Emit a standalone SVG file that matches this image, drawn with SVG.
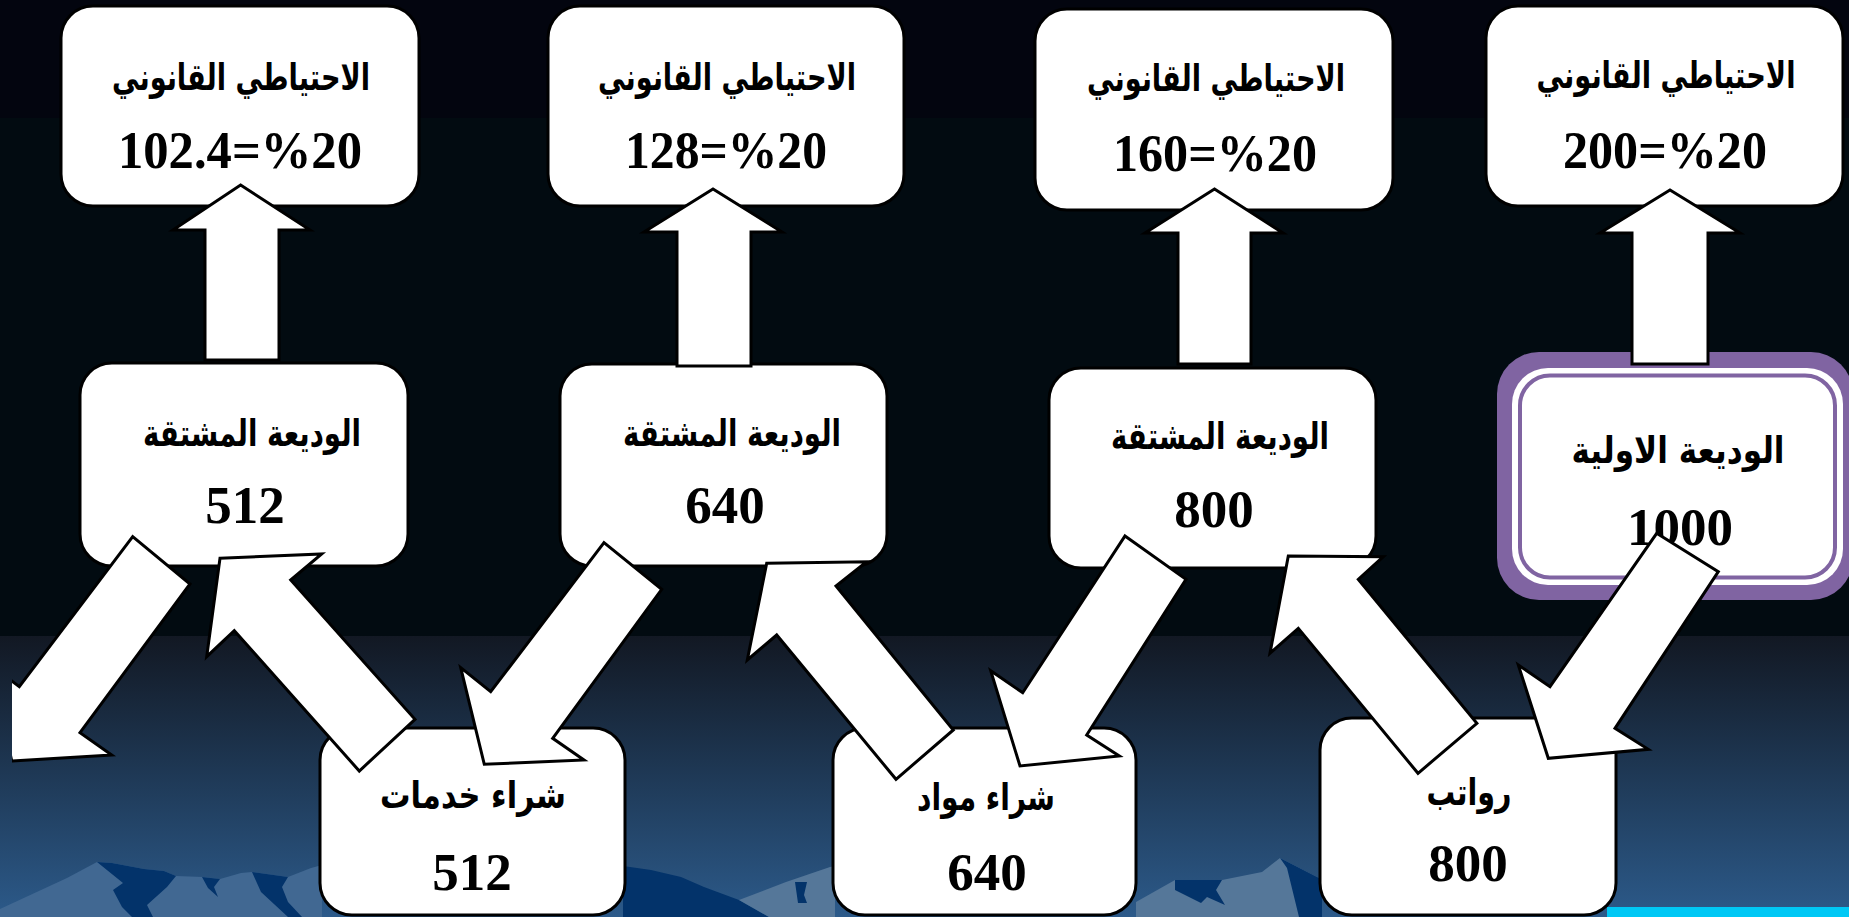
<svg xmlns="http://www.w3.org/2000/svg" width="1849" height="917" viewBox="0 0 1849 917">
<defs>
<linearGradient id="bg" x1="0" y1="636" x2="0" y2="917" gradientUnits="userSpaceOnUse">
<stop offset="0" stop-color="#121823"/>
<stop offset="0.44" stop-color="#1d3550"/>
<stop offset="1" stop-color="#2c5a8a"/>
</linearGradient>
<clipPath id="clipL"><rect x="12" y="0" width="1837" height="917"/></clipPath>
<style>
.box{fill:#fff;stroke:#000;stroke-width:3}
.arr{fill:#fff;stroke:#000;stroke-width:3;stroke-linejoin:miter}
.ar{font-family:'DejaVu Sans','Noto Sans',sans-serif;font-weight:bold;font-size:31px;text-anchor:middle;fill:#000}
.num{font-family:'Liberation Serif','DejaVu Serif',serif;font-weight:bold;font-size:53px;text-anchor:middle;fill:#000}
.mlight{fill:#557799}
.mlight2{fill:#416892}
.mdark{fill:#03336a}
</style>
</defs>
<g id="background">
<rect x="0" y="0" width="1849" height="118" fill="#03050f"/>
<rect x="0" y="118" width="1849" height="520" fill="#020b11"/>
<rect x="0" y="636" width="1849" height="281" fill="url(#bg)"/>
<polygon class="mlight2" points="0,909 67,878 97,862 112,863 144,869 164,871 176,876 203,877 220,879 241,873 252,872 288,877 311,868 322,865 322,917 0,917"/>
<polygon class="mdark" points="97,862 112,863 144,869 164,871 176,876 167,887 147,905 153,917 132,917 122,907 113,890 123,883"/>
<polygon class="mdark" points="202,877 220,879 214,887 218,897 208,888"/>
<polygon class="mdark" points="252,872 288,877 282,887 288,902 302,917 288,917 261,892"/>
<polygon class="mdark" points="623,866 651,870 681,877 704,887 739,900 769,917 623,917"/>
<polygon class="mlight" points="739,900 786,882 830,867 835,866 835,917 769,917"/>
<polygon class="mdark" points="795,882 807,882 804,895 807,903 798,903"/>
<polygon class="mlight" points="1136,902 1175,880 1222,880 1262,872 1280,858 1317,877 1322,879 1322,917 1136,917"/>
<polygon class="mdark" points="1280,858 1317,877 1322,879 1322,917 1299,917 1287,868"/>
<polygon class="mdark" points="1175,880 1222,880 1216,890 1225,905 1207,897 1201,903 1175,890"/>
<rect x="1607" y="907" width="242" height="10" fill="#00c8f5"/>
</g>
<g id="node-reserve-1">
<rect class="box" x="61" y="6" width="358" height="200" rx="32"/>
<text class="ar" transform="translate(241,90) scale(1,1.2)" textLength="258" lengthAdjust="spacingAndGlyphs">الاحتياطي القانوني</text>
<text class="num" x="240" y="168" textLength="244" lengthAdjust="spacingAndGlyphs">102.4=%20</text>
</g>
<g id="node-reserve-2">
<rect class="box" x="548" y="6" width="356" height="200" rx="32"/>
<text class="ar" transform="translate(727,90) scale(1,1.2)" textLength="258" lengthAdjust="spacingAndGlyphs">الاحتياطي القانوني</text>
<text class="num" x="726" y="168" textLength="202" lengthAdjust="spacingAndGlyphs">128=%20</text>
</g>
<g id="node-reserve-3">
<rect class="box" x="1035" y="9" width="358" height="201" rx="32"/>
<text class="ar" transform="translate(1216,91) scale(1,1.2)" textLength="258" lengthAdjust="spacingAndGlyphs">الاحتياطي القانوني</text>
<text class="num" x="1215" y="171" textLength="204" lengthAdjust="spacingAndGlyphs">160=%20</text>
</g>
<g id="node-reserve-4">
<rect class="box" x="1486" y="6" width="357" height="200" rx="32"/>
<text class="ar" transform="translate(1666,88) scale(1,1.2)" textLength="259" lengthAdjust="spacingAndGlyphs">الاحتياطي القانوني</text>
<text class="num" x="1665" y="168" textLength="204" lengthAdjust="spacingAndGlyphs">200=%20</text>
</g>
<g id="node-deposit-512">
<rect class="box" x="80" y="363" width="328" height="203" rx="32"/>
<text class="ar" transform="translate(252,446) scale(1,1.2)" textLength="218" lengthAdjust="spacingAndGlyphs">الوديعة المشتقة</text>
<text class="num" x="245" y="523">512</text>
</g>
<g id="node-deposit-640">
<rect class="box" x="560" y="364" width="327" height="202" rx="32"/>
<text class="ar" transform="translate(732,446) scale(1,1.2)" textLength="218" lengthAdjust="spacingAndGlyphs">الوديعة المشتقة</text>
<text class="num" x="725" y="523">640</text>
</g>
<g id="node-deposit-800">
<rect class="box" x="1049" y="368" width="327" height="200" rx="32"/>
<text class="ar" transform="translate(1220,449) scale(1,1.2)" textLength="218" lengthAdjust="spacingAndGlyphs">الوديعة المشتقة</text>
<text class="num" x="1214" y="527">800</text>
</g>
<g id="node-initial-1000">
<rect x="1497" y="352" width="356" height="248" rx="42" fill="#8064a2"/>
<rect x="1512" y="368" width="331" height="217" rx="36" fill="#fff"/>
<rect x="1520" y="375.5" width="315" height="202" rx="30" fill="none" stroke="#8064a2" stroke-width="4"/>
<text class="ar" transform="translate(1678,463) scale(1,1.2)" textLength="213" lengthAdjust="spacingAndGlyphs">الوديعة الاولية</text>
<text class="num" x="1680" y="545">1000</text>
</g>
<g id="node-services">
<rect class="box" x="320" y="728" width="305" height="187" rx="32"/>
<text class="ar" transform="translate(473,808) scale(1,1.2)" textLength="186" lengthAdjust="spacingAndGlyphs">شراء خدمات</text>
<text class="num" x="472" y="890">512</text>
</g>
<g id="node-materials">
<rect class="box" x="833" y="728" width="303" height="187" rx="32"/>
<text class="ar" transform="translate(986,810) scale(1,1.2)" textLength="138" lengthAdjust="spacingAndGlyphs">شراء مواد</text>
<text class="num" x="987" y="890">640</text>
</g>
<g id="node-salaries">
<rect class="box" x="1320" y="718" width="296" height="197" rx="32"/>
<text class="ar" transform="translate(1469,805) scale(1,1.2)" textLength="85" lengthAdjust="spacingAndGlyphs">رواتب</text>
<text class="num" x="1468" y="881">800</text>
</g>
<g id="connectors">
<polygon class="arr" points="240.6,185 310,230 279,230 279,360 205,360 205,230 173,230"/>
<polygon class="arr" points="713,189 782,232 751,232 751,366 677,366 677,232 644,232"/>
<polygon class="arr" points="1214.5,189 1283,233 1251,233 1251,364 1178,364 1178,233 1145,233"/>
<polygon class="arr" points="1670,190 1740,233 1708,233 1708,364 1632,364 1632,233 1600,233"/>
<polygon class="arr" clip-path="url(#clipL)" points="132.7,536.7 190,584 80,732.7 111.7,755 11.8,761 -10.2,664.5 19.3,686.7"/>
<polygon class="arr" points="220,558.3 321.7,554 290.7,580 415,719.3 359.3,771 234.3,630.7 206.7,656.7"/>
<polygon class="arr" points="604,542.7 661.7,589.3 552.7,738.3 584,760 484.3,764.3 460.7,667.7 490.7,691.7"/>
<polygon class="arr" points="766.7,563.3 866.7,561.7 836,586 953.3,730 896,779.3 776.7,635 747.3,660"/>
<polygon class="arr" points="1125,536 1186,579.3 1086.7,735 1119.3,756 1020,766 990.7,670.7 1022.7,692.7"/>
<polygon class="arr" points="1288.3,556 1383.3,556.7 1358.3,579.3 1476.9,723.3 1418,773.3 1298.3,628.3 1270,653.3"/>
<polygon class="arr" points="1656.7,533.3 1718.3,571.7 1615,728.3 1648.3,749.3 1548.3,758.3 1518.3,665 1550,686.7"/>
</g>
</svg>
